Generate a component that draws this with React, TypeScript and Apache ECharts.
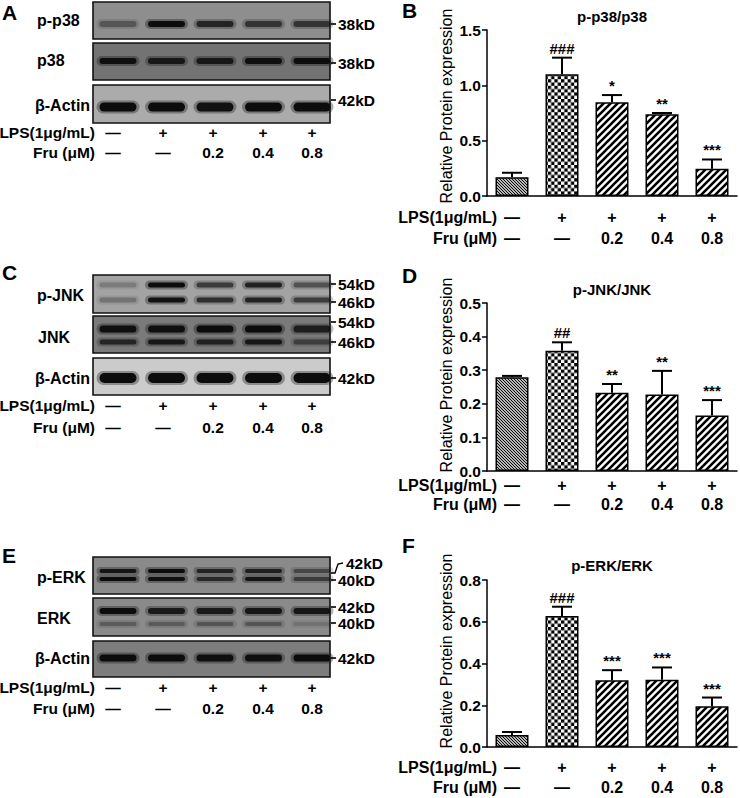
import React, { useEffect, useRef } from "react";
import * as echarts from "echarts";

// ---------------- data ----------------
const groups = ["Control", "LPS", "LPS+Fru0.2", "LPS+Fru0.4", "LPS+Fru0.8"];
const lpsRow = ["—", "+", "+", "+", "+"];
const fruRow = ["—", "—", "0.2", "0.4", "0.8"];

const p38Mean = [0.17, 1.1, 0.847, 0.738, 0.247];
const p38Err = [0.04, 0.15, 0.065, 0.012, 0.083];
const p38Sig = ["", "###", "*", "**", "***"];

const jnkMean = [0.279, 0.358, 0.233, 0.228, 0.165];
const jnkErr = [0.004, 0.025, 0.026, 0.07, 0.046];
const jnkSig = ["", "##", "**", "**", "***"];

const erkMean = [0.058, 0.627, 0.32, 0.322, 0.195];
const erkErr = [0.014, 0.045, 0.048, 0.059, 0.042];
const erkSig = ["", "###", "***", "***", "***"];

// band intensities (0..1) per lane, read from the blots
const bandPp38 = [0.35, 1.0, 0.75, 0.62, 0.62];
const bandP38 = [0.95, 0.85, 0.85, 0.95, 1.0];
const bandActinA = [1, 1, 0.95, 1, 1];
const bandPjnk54 = [0.2, 1, 0.6, 0.8, 0.45];
const bandPjnk46 = [0.25, 0.95, 0.7, 0.8, 0.6];
const bandJnk54 = [0.95, 0.95, 1, 1, 0.8];
const bandJnk46 = [0.7, 0.85, 0.75, 0.85, 0.45];
const bandActinC = [1, 1, 1, 1, 1];
const bandPerk42 = [0.9, 1, 0.75, 0.8, 0.45];
const bandPerk40 = [1, 0.95, 0.7, 0.9, 0.55];
const bandErk42 = [1, 0.85, 0.85, 0.9, 0.9];
const bandErk40 = [0.3, 0.3, 0.35, 0.35, 0.15];
const bandActinE = [1, 1, 0.95, 0.95, 1];

// ---------------- styling ----------------
const FONT = '"Liberation Sans", Arial, Helvetica, sans-serif';

const svgUrl = (w: number, h: number, body: string) =>
  "data:image/svg+xml;charset=utf-8," +
  encodeURIComponent(
    `<svg xmlns="http://www.w3.org/2000/svg" width="${w}" height="${h}" viewBox="0 0 ${w} ${h}"><rect width="${w}" height="${h}" fill="#fff"/>${body}</svg>`
  );
const pat = (w: number, h: number, body: string) => ({
  image: svgUrl(w, h, body),
  repeat: "repeat",
  imageWidth: w,
  imageHeight: h,
});
const P1 = 3;
const denseBack = pat(
  P1,
  P1,
  `<path d="M0,0L${P1},${P1}M-1,${P1 - 1}L1,${P1 + 1}M${P1 - 1},-1L${P1 + 1},1" stroke="#000" stroke-width="1.1"/>`
);
const C = 3.3;
const checker = pat(
  2 * C,
  2 * C,
  `<rect x="0" y="0" width="${C}" height="${C}" fill="#000"/><rect x="${C}" y="${C}" width="${C}" height="${C}" fill="#000"/>`
);
const P2 = 7;
const wideFwd = pat(
  P2,
  P2,
  `<path d="M0,${P2}L${P2},0M-1,1L1,-1M${P2 - 1},${P2 + 1}L${P2 + 1},${P2 - 1}" stroke="#000" stroke-width="2.6"/>`
);
const barPatterns = [denseBack, checker, wideFwd, wideFwd, wideFwd];

function txt(
  x: number,
  y: number,
  text: string,
  size: number,
  opts: { weight?: string; align?: string; va?: string; rotation?: number } = {}
) {
  return {
    type: "text",
    x,
    y,
    rotation: opts.rotation ?? 0,
    silent: true,
    style: {
      text,
      fontSize: size,
      fontWeight: opts.weight ?? "bold",
      fontFamily: FONT,
      fill: "#000",
      align: opts.align ?? "left",
      verticalAlign: opts.va ?? "middle",
    },
  };
}

// ---------------- blot layout ----------------
const BOX_X = 93;
const BOX_W = 237;
const LANE_X0 = 118;
const LANE_STEP = 48.5;
const BAND_W = 37;
const ROW_X = [113, 163, 213, 263, 312];

type Band = { y: number; h: number; v: number[] };
type Marker = { y: number; t: string; bracket?: boolean };
type BlotRow = { label: string; labelX: number; labelY: number; y: number; h: number; bg: string; bands: Band[]; markers: Marker[] };
type BlotPanel = { letter: string; letterY: number; rows: BlotRow[]; lpsY: number; fruY: number };

const blotPanels: BlotPanel[] = [
  {
    letter: "A",
    letterY: 12,
    lpsY: 132,
    fruY: 152,
    rows: [
      { label: "p-p38", labelX: 37, labelY: 20, y: 2, h: 37, bg: "#8e8e8e", bands: [{ y: 24, h: 6, v: bandPp38 }], markers: [{ y: 24, t: "38kD" }] },
      { label: "p38", labelX: 37, labelY: 60, y: 43, h: 37, bg: "#737373", bands: [{ y: 61, h: 6, v: bandP38 }], markers: [{ y: 63, t: "38kD" }] },
      { label: "β-Actin", labelX: 35, labelY: 105, y: 85, h: 38, bg: "#ababab", bands: [{ y: 107, h: 9, v: bandActinA }], markers: [{ y: 100, t: "42kD" }] },
    ],
  },
  {
    letter: "C",
    letterY: 272,
    lpsY: 405,
    fruY: 427,
    rows: [
      {
        label: "p-JNK", labelX: 37, labelY: 295, y: 275, h: 38, bg: "#a3a3a3",
        bands: [{ y: 285, h: 5, v: bandPjnk54 }, { y: 300, h: 5, v: bandPjnk46 }],
        markers: [{ y: 284, t: "54kD" }, { y: 302, t: "46kD" }],
      },
      {
        label: "JNK", labelX: 38, labelY: 337, y: 316, h: 37, bg: "#7a7a7a",
        bands: [{ y: 329, h: 7, v: bandJnk54 }, { y: 342, h: 5, v: bandJnk46 }],
        markers: [{ y: 322, t: "54kD" }, { y: 342, t: "46kD" }],
      },
      { label: "β-Actin", labelX: 35, labelY: 378, y: 358, h: 37, bg: "#cbcbcb", bands: [{ y: 378, h: 10, v: bandActinC }], markers: [{ y: 378, t: "42kD" }] },
    ],
  },
  {
    letter: "E",
    letterY: 555,
    lpsY: 687,
    fruY: 708,
    rows: [
      {
        label: "p-ERK", labelX: 37, labelY: 577, y: 557, h: 37, bg: "#8a8a8a",
        bands: [{ y: 571, h: 4, v: bandPerk42 }, { y: 579, h: 4, v: bandPerk40 }],
        markers: [{ y: 563, t: "42kD", bracket: true }, { y: 580, t: "40kD" }],
      },
      {
        label: "ERK", labelX: 37, labelY: 618, y: 598, h: 38, bg: "#8a8a8a",
        bands: [{ y: 611, h: 6, v: bandErk42 }, { y: 624, h: 4, v: bandErk40 }],
        markers: [{ y: 607, t: "42kD" }, { y: 623, t: "40kD" }],
      },
      { label: "β-Actin", labelX: 35, labelY: 658, y: 641, h: 36, bg: "#7d7d7d", bands: [{ y: 658, h: 7, v: bandActinE }], markers: [{ y: 658, t: "42kD" }] },
    ],
  },
];

function blotGraphics(p: BlotPanel): any[] {
  const out: any[] = [];
  out.push(txt(2, p.letterY, p.letter, 21));
  p.rows.forEach((r) => {
    out.push({
      type: "rect",
      silent: true,
      shape: { x: BOX_X, y: r.y, width: BOX_W, height: r.h },
      style: { fill: r.bg, stroke: "#111", lineWidth: 1.6 },
    });
    r.bands.forEach((b) => {
      b.v.forEach((v, i) => {
        const cx = LANE_X0 + i * LANE_STEP;
        out.push({
          type: "rect",
          silent: true,
          shape: { x: cx - BAND_W / 2 - 3, y: b.y - b.h / 2 - 2, width: BAND_W + 6, height: b.h + 4, r: (b.h + 4) / 2 },
          style: { fill: `rgba(20,20,20,${(v * 0.35).toFixed(3)})` },
        });
        const col = `rgba(12,12,12,${v})`;
        out.push({
          type: "rect",
          silent: true,
          shape: { x: cx - BAND_W / 2, y: b.y - b.h / 2, width: BAND_W, height: b.h, r: b.h / 2 },
          style: { fill: col },
        });
      });
    });
    out.push(txt(r.labelX, r.labelY, r.label, 16));
    r.markers.forEach((m) => {
      if (m.bracket) {
        out.push({
          type: "polyline",
          silent: true,
          shape: { points: [[331, 573], [335, 573], [338, 564], [343, 563]] },
          style: { stroke: "#000", lineWidth: 1.4, fill: "none" },
        });
        out.push(txt(346, m.y, m.t, 15.5));
      } else {
        out.push({
          type: "line",
          silent: true,
          shape: { x1: 331, y1: m.y, x2: 336, y2: m.y },
          style: { stroke: "#000", lineWidth: 1.6 },
        });
        out.push(txt(338, m.y, m.t, 15.5));
      }
    });
  });
  out.push(txt(95, p.lpsY, "LPS(1μg/mL)", 15.5, { align: "right" }));
  out.push(txt(95, p.fruY, "Fru (μM)", 15.5, { align: "right" }));
  lpsRow.forEach((s, i) => out.push(txt(ROW_X[i], p.lpsY, s, 15.5, { align: "center" })));
  fruRow.forEach((s, i) => out.push(txt(ROW_X[i], p.fruY, s, 15.5, { align: "center" })));
  return out;
}

// ---------------- bar panels ----------------
const GRID_LEFT = 487;
const GRID_W = 250;

const barPanels = [
  { mean: p38Mean, err: p38Err, sig: p38Sig, max: 1.5, interval: 0.5, top: 30, height: 166, title: "p-p38/p38", titleY: 16, letter: "B", letterY: 10, nameY: 106, lineH: 21, lpsY: 217 },
  { mean: jnkMean, err: jnkErr, sig: jnkSig, max: 0.5, interval: 0.1, top: 303, height: 168, title: "p-JNK/JNK", titleY: 289, letter: "D", letterY: 275, nameY: 375, lineH: 19.5, lpsY: 485 },
  { mean: erkMean, err: erkErr, sig: erkSig, max: 0.8, interval: 0.2, top: 580, height: 167, title: "p-ERK/ERK", titleY: 565, letter: "F", letterY: 545, nameY: 651, lineH: 20, lpsY: 767 },
];

function buildOption() {
  const grid: any[] = [];
  const xAxis: any[] = [];
  const yAxis: any[] = [];
  const series: any[] = [];
  const graphic: any[] = [];

  blotPanels.forEach((p) => graphic.push(...blotGraphics(p)));

  barPanels.forEach((p, gi) => {
    grid.push({ left: GRID_LEFT, top: p.top, width: GRID_W, height: p.height, containLabel: false });
    const axisY = p.top + p.height;
    xAxis.push({
      type: "category",
      gridIndex: gi,
      data: groups,
      axisLine: { lineStyle: { color: "#000", width: 1.5 } },
      axisTick: { alignWithLabel: true, length: 5, lineStyle: { color: "#000", width: 1.5 } },
      axisLabel: {
        interval: 0,
        margin: p.lpsY - axisY - p.lineH / 2,
        formatter: (_v: string, idx: number) => lpsRow[idx] + "\n" + fruRow[idx],
        lineHeight: p.lineH,
        fontSize: 16,
        fontWeight: "bold",
        fontFamily: FONT,
        color: "#000",
      },
    });
    yAxis.push({
      type: "value",
      gridIndex: gi,
      min: 0,
      max: p.max,
      interval: p.interval,
      axisLine: { show: true, lineStyle: { color: "#000", width: 1.5 } },
      axisTick: { show: true, length: 5, lineStyle: { color: "#000", width: 1.5 } },
      splitLine: { show: false },
      axisLabel: {
        margin: 6,
        formatter: (v: number) => v.toFixed(1),
        fontSize: 15.5,
        fontWeight: "bold",
        fontFamily: FONT,
        color: "#000",
      },
    });
    series.push({
      type: "bar",
      xAxisIndex: gi,
      yAxisIndex: gi,
      barWidth: 33,
      z: 2,
      data: p.mean.map((m, i) => ({
        value: m,
        itemStyle: { color: barPatterns[i], borderColor: "#000", borderWidth: 1.5 },
      })),
    });
    const sig = p.sig;
    series.push({
      type: "custom",
      xAxisIndex: gi,
      yAxisIndex: gi,
      z: 3,
      data: p.mean.map((m, i) => [i, m, m + p.err[i]]),
      renderItem: (params: any, api: any) => {
        const x = api.value(0);
        const base = api.coord([x, api.value(1)]);
        const top = api.coord([x, api.value(2)]);
        const half = 10;
        return {
          type: "group",
          children: [
            { type: "line", shape: { x1: top[0], y1: base[1], x2: top[0], y2: top[1] }, style: { stroke: "#000", lineWidth: 2 } },
            { type: "line", shape: { x1: top[0] - half, y1: top[1], x2: top[0] + half, y2: top[1] }, style: { stroke: "#000", lineWidth: 2 } },
            {
              type: "text",
              x: top[0],
              y: top[1] - 2,
              style: {
                text: sig[params.dataIndex],
                align: "center",
                verticalAlign: "bottom",
                fontSize: 15,
                fontWeight: "bold",
                fontFamily: FONT,
                fill: "#000",
              },
            },
          ],
        };
      },
    });

    graphic.push(txt(402, p.letterY, p.letter, 21));
    graphic.push(txt(GRID_LEFT + GRID_W / 2, p.titleY, p.title, 15, { align: "center" }));
    graphic.push(txt(446, p.nameY, "Relative Protein expression", 16, { weight: "normal", align: "center", rotation: Math.PI / 2 }));
    graphic.push(txt(497, p.lpsY, "LPS(1μg/mL)", 16, { align: "right" }));
    graphic.push(txt(497, p.lpsY + p.lineH, "Fru (μM)", 16, { align: "right" }));
  });

  return {
    animation: false,
    backgroundColor: "#fff",
    grid,
    xAxis,
    yAxis,
    series,
    graphic: { elements: graphic },
  };
}

export default function App() {
  const ref = useRef<HTMLDivElement>(null);
  useEffect(() => {
    document.body.style.margin = "0";
    const chart = echarts.init(ref.current as HTMLDivElement, undefined, { renderer: "svg" });
    chart.setOption(buildOption() as any);
    return () => chart.dispose();
  }, []);
  return <div ref={ref} style={{ width: 740, height: 798 }} />;
}
